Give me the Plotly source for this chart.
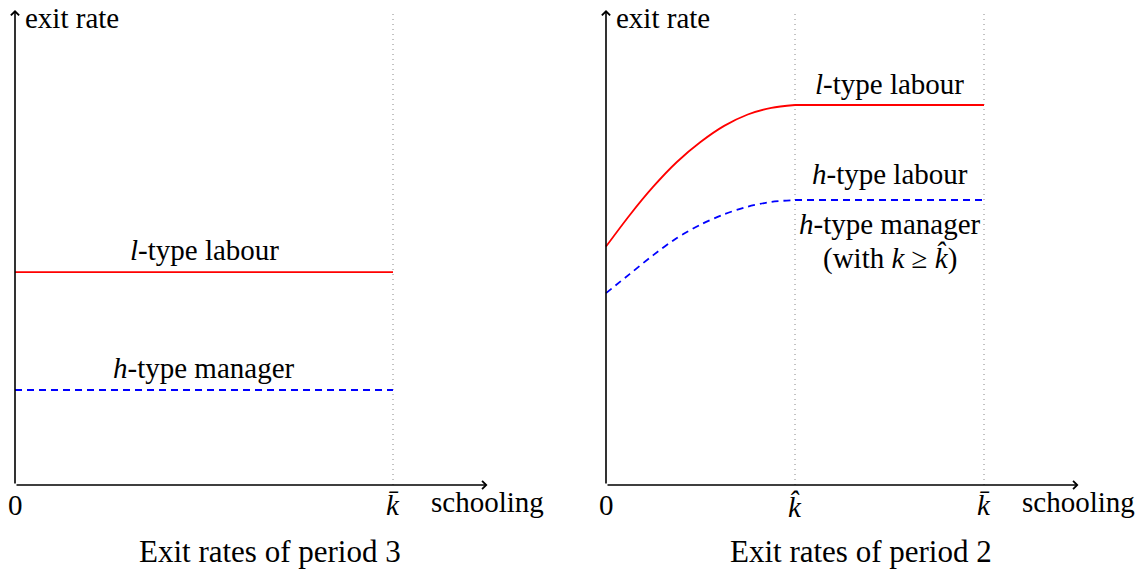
import plotly.graph_objects as go

# ---- data ----
# Period 3 (left panel): flat exit rates over schooling 0..k_bar
p3_k = [0.0, 2.0]
p3_l_labour = [2.24, 2.24]
p3_h_manager = [1.00, 1.00]

# Period 2 (right panel): rising part up to k_hat ...
p2_k_rise = [0.0, 0.125, 0.25, 0.375, 0.5, 0.625, 0.75, 0.875, 1.0]
p2_l_labour_rise = [2.51, 2.84, 3.14, 3.40, 3.61, 3.78, 3.90, 3.97, 4.0]
p2_h_labour_rise = [2.02, 2.22, 2.42, 2.60, 2.74, 2.85, 2.93, 2.98, 3.0]
# ... and flat part from k_hat to k_bar
p2_k_flat = [1.0, 2.0]
p2_l_labour_flat = [4.0, 4.0]
p2_h_labour_flat = [3.0, 3.0]

k_hat = 1.0
k_bar = 2.0
x_axis_end = 2.5
y_axis_end = 5.0

FONT = "Liberation Serif, serif"
FS = 29
FS_TITLE = 31

W, H = 1137, 571
X0_L, X0_R, Y0, SX, SY = 15, 606, 485, 189, 95

fig = go.Figure()

GUIDE = dict(color="#888888", width=1, dash="1px,4px")
fig.add_trace(go.Scatter(x=[k_bar, k_bar], y=[0, y_axis_end], mode="lines",
                         line=GUIDE, xaxis="x", yaxis="y", hoverinfo="skip"))
for kv in (k_hat, k_bar):
    fig.add_trace(go.Scatter(x=[kv, kv], y=[0, y_axis_end], mode="lines",
                             line=GUIDE, xaxis="x2", yaxis="y", hoverinfo="skip"))

RED = dict(color="#ff0000", width=1.8)
BLUE = dict(color="#0000ff", width=1.8, dash="7px,5px")

fig.add_trace(go.Scatter(x=p3_k, y=p3_l_labour, mode="lines", line=RED, xaxis="x", yaxis="y"))
fig.add_trace(go.Scatter(x=p3_k, y=p3_h_manager, mode="lines", line=BLUE, xaxis="x", yaxis="y"))

fig.add_trace(go.Scatter(x=p2_k_rise, y=p2_l_labour_rise, mode="lines",
                         line=dict(RED, shape="spline", smoothing=0.8), xaxis="x2", yaxis="y"))
fig.add_trace(go.Scatter(x=p2_k_flat, y=p2_l_labour_flat, mode="lines", line=RED,
                         xaxis="x2", yaxis="y"))
fig.add_trace(go.Scatter(x=p2_k_rise, y=p2_h_labour_rise, mode="lines",
                         line=dict(BLUE, shape="spline", smoothing=0.8), xaxis="x2", yaxis="y"))
fig.add_trace(go.Scatter(x=p2_k_flat, y=p2_h_labour_flat, mode="lines", line=BLUE,
                         xaxis="x2", yaxis="y"))

ann = []


def lab(x, y, t, xr, xanchor="center", size=FS):
    ann.append(dict(x=x, y=y, xref=xr, yref="y", text=t, showarrow=False,
                    xanchor=xanchor, yanchor="middle", borderpad=0,
                    font=dict(family=FONT, size=size, color="black")))


for xr in ("x", "x2"):
    for (hx, hy) in ((0, y_axis_end), (x_axis_end, 0)):
        ann.append(dict(x=hx, y=hy, ax=0, ay=0, xref=xr, yref="y", axref=xr, ayref="y",
                        text="", showarrow=True, arrowhead=4, arrowsize=1, arrowwidth=1.6,
                        arrowcolor="black", standoff=0, startstandoff=0))
    lab(0.045, 4.92, "exit rate", xr, xanchor="left")
    lab(2.5, -0.18, "schooling", xr)
    lab(0, -0.21, "0", xr)
    lab(k_bar, -0.21, "<i>k\u0304</i>", xr)

lab(k_hat, -0.23, "<i>k\u0302</i>", "x2")

lab(1.0, 2.47, "<i>l</i>-type labour", "x")
lab(1.0, 1.23, "<i>h</i>-type manager", "x")
lab(1.5, 4.22, "<i>l</i>-type labour", "x2")
lab(1.5, 3.27, "<i>h</i>-type labour", "x2")
lab(1.5, 2.75, "<i>h</i>-type manager", "x2")
lab(1.5, 2.39, "(with <i>k</i> \u2265 <i>k\u0302</i>)", "x2")

lab(1.349, -0.695, "Exit rates of period 3", "x", size=FS_TITLE)
lab(1.349, -0.695, "Exit rates of period 2", "x2", size=FS_TITLE)

xm = 0.5 * W
fig.update_layout(
    width=W, height=H,
    margin=dict(l=0, r=0, t=0, b=0, pad=0),
    paper_bgcolor="white", plot_bgcolor="white",
    showlegend=False,
    hovermode=False,
    annotations=ann,
    xaxis=dict(domain=[0, 0.5], range=[-X0_L / SX, (xm - X0_L) / SX], visible=False),
    xaxis2=dict(domain=[0.5, 1], range=[(xm - X0_R) / SX, (W - X0_R) / SX], visible=False),
    yaxis=dict(domain=[0, 1], range=[(Y0 - H) / SY, Y0 / SY], visible=False),
)

fig.write_html("out.html", config={"displayModeBar": False},
               post_script="document.body.style.margin='0px';")
